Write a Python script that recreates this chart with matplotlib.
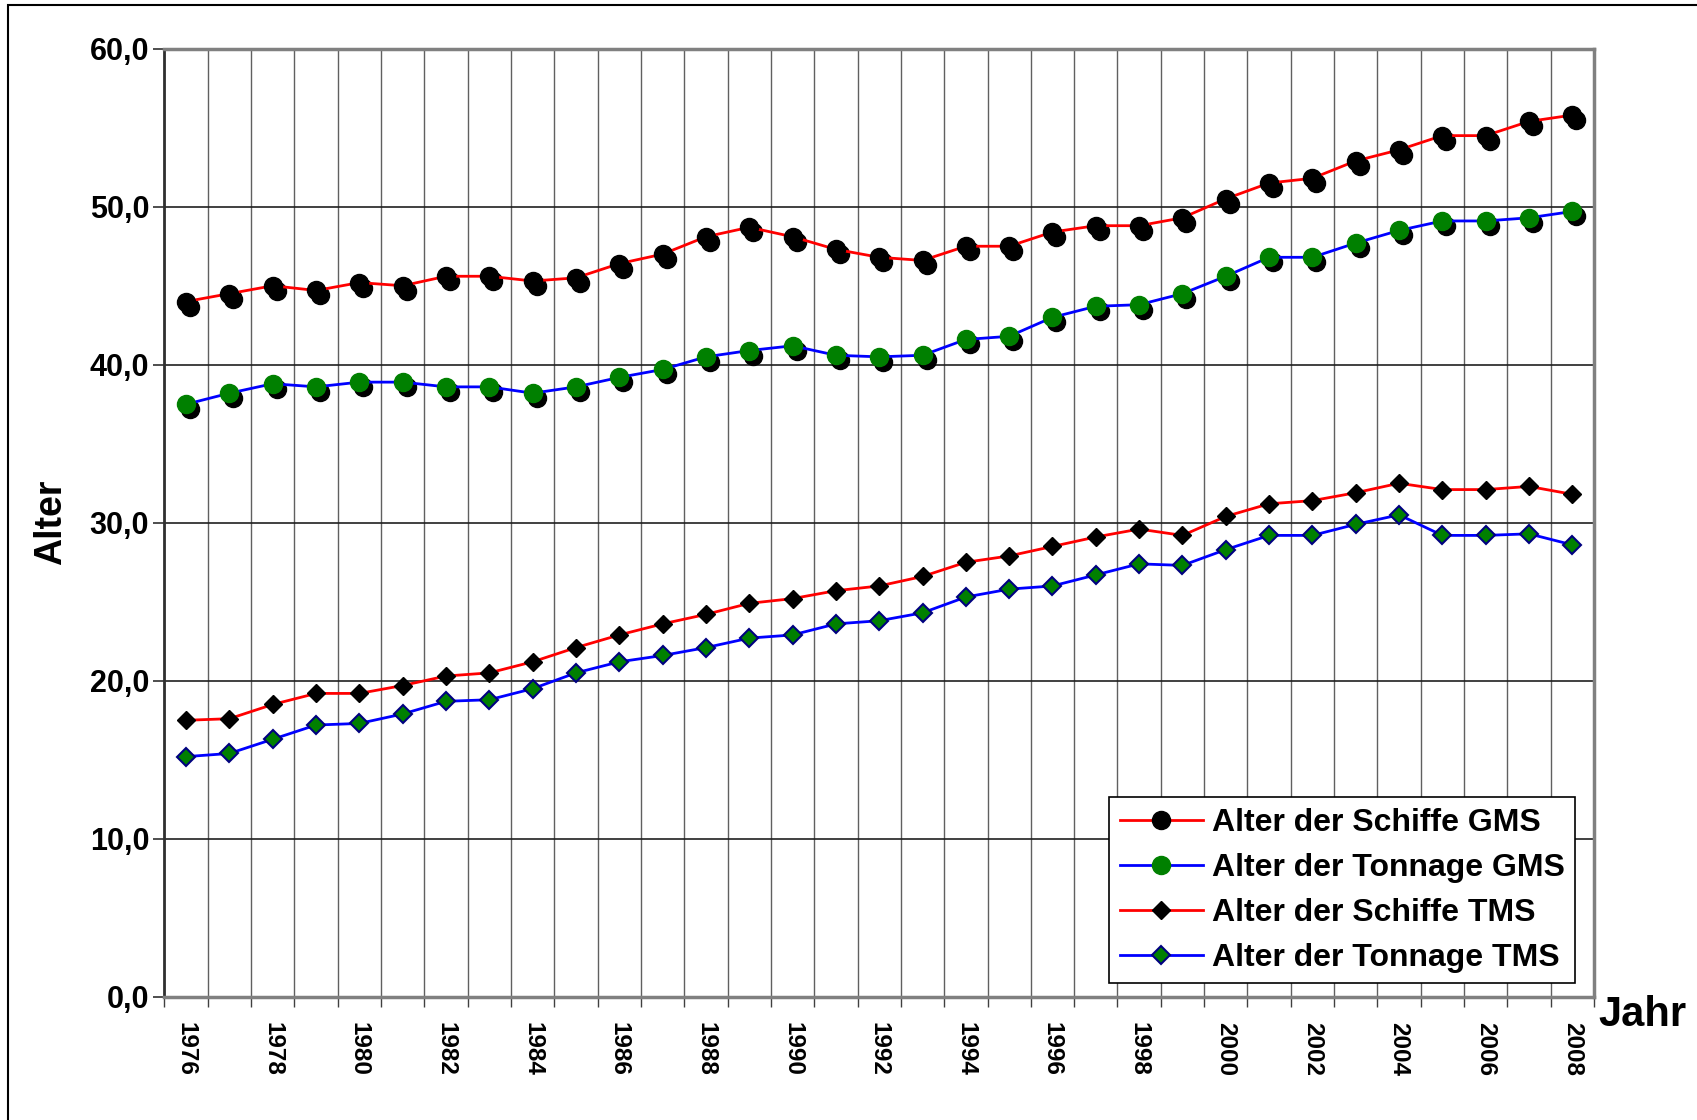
import matplotlib

matplotlib.use("Agg")

import matplotlib.pyplot as plt
from matplotlib.patches import Rectangle
from matplotlib.ticker import FixedLocator, FuncFormatter, MultipleLocator
from matplotlib.transforms import offset_copy

plt.rcParams["font.family"] = ["Liberation Sans", "DejaVu Sans"]
plt.rcParams["font.weight"] = "bold"

years = list(range(1976, 2009))

schiffe_gms = [44.0, 44.5, 45.0, 44.7, 45.2, 45.0, 45.6, 45.6, 45.3, 45.5,
               46.4, 47.0, 48.1, 48.7, 48.1, 47.3, 46.8, 46.6, 47.5, 47.5,
               48.4, 48.8, 48.8, 49.3, 50.5, 51.5, 51.8, 52.9, 53.6, 54.5,
               54.5, 55.4, 55.8]
tonnage_gms = [37.5, 38.2, 38.8, 38.6, 38.9, 38.9, 38.6, 38.6, 38.2, 38.6,
               39.2, 39.7, 40.5, 40.9, 41.2, 40.6, 40.5, 40.6, 41.6, 41.8,
               43.0, 43.7, 43.8, 44.5, 45.6, 46.8, 46.8, 47.7, 48.5, 49.1,
               49.1, 49.3, 49.7]
schiffe_tms = [17.5, 17.6, 18.5, 19.2, 19.2, 19.7, 20.3, 20.5, 21.2, 22.1,
               22.9, 23.6, 24.2, 24.9, 25.2, 25.7, 26.0, 26.6, 27.5, 27.9,
               28.5, 29.1, 29.6, 29.2, 30.4, 31.2, 31.4, 31.9, 32.5, 32.1,
               32.1, 32.3, 31.8]
tonnage_tms = [15.2, 15.4, 16.3, 17.2, 17.3, 17.9, 18.7, 18.8, 19.5, 20.5,
               21.2, 21.6, 22.1, 22.7, 22.9, 23.6, 23.8, 24.3, 25.3, 25.8,
               26.0, 26.7, 27.4, 27.3, 28.3, 29.2, 29.2, 29.9, 30.5, 29.2,
               29.2, 29.3, 28.6]

labels = ["Alter der Schiffe GMS", "Alter der Tonnage GMS",
          "Alter der Schiffe TMS", "Alter der Tonnage TMS"]

fig = plt.figure(figsize=(16.97, 11.2), dpi=100)
fig.patch.set_facecolor("white")
ax = fig.add_axes([0.0969, 0.11, 0.8424, 0.8465])

# drop shadows behind the circle markers (Excel style)
shadow = offset_copy(ax.transData, fig=fig, x=4, y=-5, units="dots")
for vals in (schiffe_gms, tonnage_gms):
    ax.plot(years, vals, ls="none", marker="o", ms=13, color="black",
            transform=shadow, zorder=3)

ax.plot(years, schiffe_gms, color="#ff0000", lw=2, marker="o", ms=13,
        mfc="black", mec="black", label=labels[0], zorder=4)
ax.plot(years, tonnage_gms, color="#0000ff", lw=2, marker="o", ms=13,
        mfc="#008000", mec="#008000", label=labels[1], zorder=4)
ax.plot(years, schiffe_tms, color="#ff0000", lw=2, marker="D", ms=9.5,
        mfc="black", mec="black", label=labels[2], zorder=4)
ax.plot(years, tonnage_tms, color="#0000ff", lw=2, marker="D", ms=9,
        mfc="#008000", mec="#000080", mew=1.5, label=labels[3], zorder=4)

ax.set_xlim(1975.5, 2008.5)
ax.set_ylim(0, 60)

# category boundaries carry the gridlines and tick marks
ax.xaxis.set_minor_locator(FixedLocator([y - 0.5 for y in years] + [2008.5]))
ax.xaxis.set_major_locator(FixedLocator(years[::2]))
ax.tick_params(axis="x", which="major", length=0, pad=18, labelsize=17.5,
               labelrotation=-90)
ax.tick_params(axis="x", which="minor", length=7, width=1, color="#404040",
               direction="out")
ax.grid(True, axis="x", which="minor", color="#606060", lw=1)

ax.yaxis.set_major_locator(MultipleLocator(10))
ax.yaxis.set_major_formatter(FuncFormatter(lambda v, p: f"{v:.1f}".replace(".", ",")))
ax.tick_params(axis="y", length=8, width=1.2, color="#303030", pad=3, labelsize=22)
ax.grid(True, axis="y", which="major", color="#202020", lw=1.2)
ax.set_axisbelow(True)

for side in ("top", "right", "bottom"):
    ax.spines[side].set_color("#808080")
    ax.spines[side].set_linewidth(2.5)
ax.spines["left"].set_color("#303030")
ax.spines["left"].set_linewidth(2)

for lbl in ax.get_xticklabels() + ax.get_yticklabels():
    lbl.set_fontweight("bold")

fig.text(0.030, 0.534, "Alter", rotation=90, ha="center", va="center",
         fontsize=27, fontweight="bold")
fig.text(0.968, 0.094, "Jahr", ha="center", va="center",
         fontsize=30, fontweight="bold")

leg = ax.legend(loc="lower right", bbox_to_anchor=(0.987, 0.0146),
                fontsize=23, fancybox=False, shadow=False, framealpha=1,
                edgecolor="black", borderpad=0.32, labelspacing=0.47,
                handlelength=2.6, handletextpad=0.3, borderaxespad=0)
leg.get_frame().set_linewidth(1.2)
for t in leg.get_texts():
    t.set_fontweight("bold")

# outer chart border
fig.add_artist(Rectangle((8 / 1697, -0.05), 1.1, 1.05 - 5 / 1120,
                         transform=fig.transFigure, fill=False,
                         edgecolor="black", lw=1.5))

fig.savefig("out.png", dpi=100, facecolor=fig.get_facecolor())
